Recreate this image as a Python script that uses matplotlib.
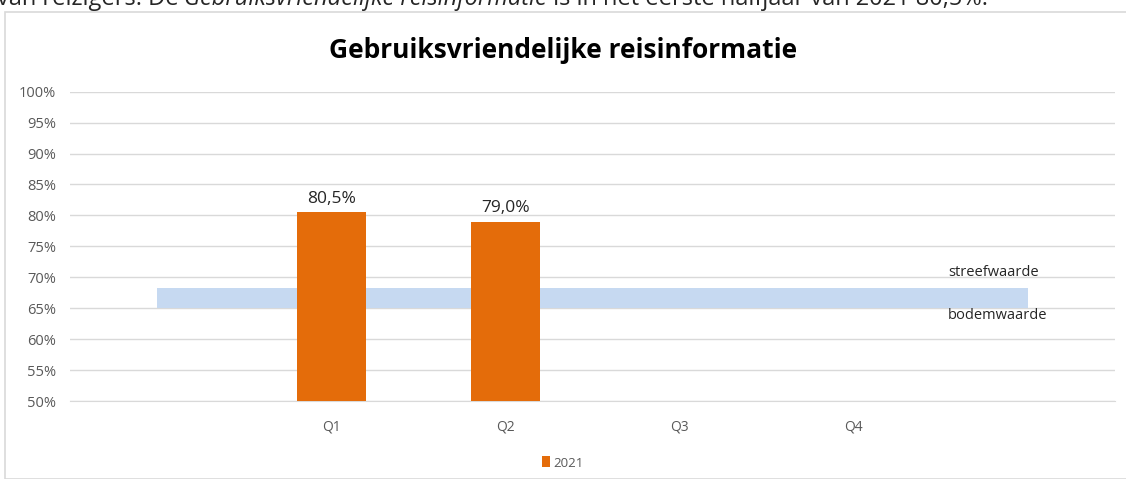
import matplotlib.pyplot as plt
from matplotlib.patches import Rectangle
import numpy as np

# chart data
categories = ["", "Q1", "Q2", "Q3", "Q4", ""]
values_2021 = [np.nan, 80.5, 79.0, np.nan, np.nan, np.nan]
bodemwaarde = [65, 65, 65, 65, 65, 65]
streefwaarde = [68.3, 68.3, 68.3, 68.3, 68.3, 68.3]
yticks = [50, 55, 60, 65, 70, 75, 80, 85, 90, 95, 100]

orange = "#E46C0A"
band = "#C6D9F1"
grid = "#D9D9D9"
tick_col = "#595959"

plt.rcParams["font.family"] = ["Open Sans", "DejaVu Sans"]

fig = plt.figure(figsize=(11.26, 4.79), dpi=100)
ax = fig.add_axes([0.0622, 0.1628, 0.9280, 0.6458])

# chart frame
fig.patches.append(Rectangle((5 / 1126, 0), 1.2, (479 - 12) / 479, transform=fig.transFigure,
                             fill=False, edgecolor=grid, linewidth=1.2))

x = np.arange(len(categories))

# target band between bodemwaarde and streefwaarde
ax.fill_between(x, bodemwaarde, streefwaarde, color=band, linewidth=0, zorder=2)

bars = ax.bar(x, values_2021, width=0.395, color=orange, label="2021", zorder=3)
for xi, v in zip(x, values_2021):
    if not np.isnan(v):
        ax.text(xi, v + 2.2, f"{v:.1f}%".replace(".", ","), ha="center", va="center",
                fontsize=12.5, color="#262626")

ax.text(4.54, 70.7, "streefwaarde", ha="left", va="center", fontsize=10.5, color="#262626")
ax.text(4.54, 63.8, "bodemwaarde", ha="left", va="center", fontsize=10.5, color="#262626")

ax.set_xlim(-0.5, 5.5)
ax.set_ylim(50, 100)
ax.set_yticks(yticks)
ax.set_yticklabels([f"{t}%" for t in yticks])
ax.set_xticks(x)
ax.set_xticklabels(categories)
ax.tick_params(axis="y", length=0, pad=10, labelsize=10.5, labelcolor=tick_col)
ax.tick_params(axis="x", length=0, pad=13, labelsize=10, labelcolor=tick_col)
ax.grid(axis="y", color=grid, linewidth=1, zorder=0)
for s in ["top", "right", "left"]:
    ax.spines[s].set_visible(False)
ax.spines["bottom"].set_color(grid)
ax.spines["bottom"].set_zorder(1)

fig.text(0.5, (479 - 50) / 479, "Gebruiksvriendelijke reisinformatie", ha="center", va="center",
         fontsize=19, fontweight="bold", color="#000000")

fig.legend(handles=[bars], labels=["2021"], loc="center", bbox_to_anchor=(0.5, (479 - 463) / 479),
           frameon=False, fontsize=9.5, handlelength=0.6, handleheight=0.9, handletextpad=0.3,
           labelcolor=tick_col)

# text of the page above the chart, cut off at the top
t1 = fig.text(-0.003, 1 - 5 / 479, "van reizigers. De ", ha="left", va="baseline",
              fontsize=17, color="#262626")
a2 = ax.annotate("Gebruiksvriendelijke reisinformatie", xy=(1, 0), xycoords=t1, va="bottom",
                 fontstyle="italic", fontsize=17, color="#262626", annotation_clip=False)
ax.annotate(" is in het eerste halfjaar van 2021 80,5%.", xy=(1, 0), xycoords=a2, va="bottom",
            fontsize=17, color="#262626", annotation_clip=False)

fig.savefig("out.png", dpi=100)
